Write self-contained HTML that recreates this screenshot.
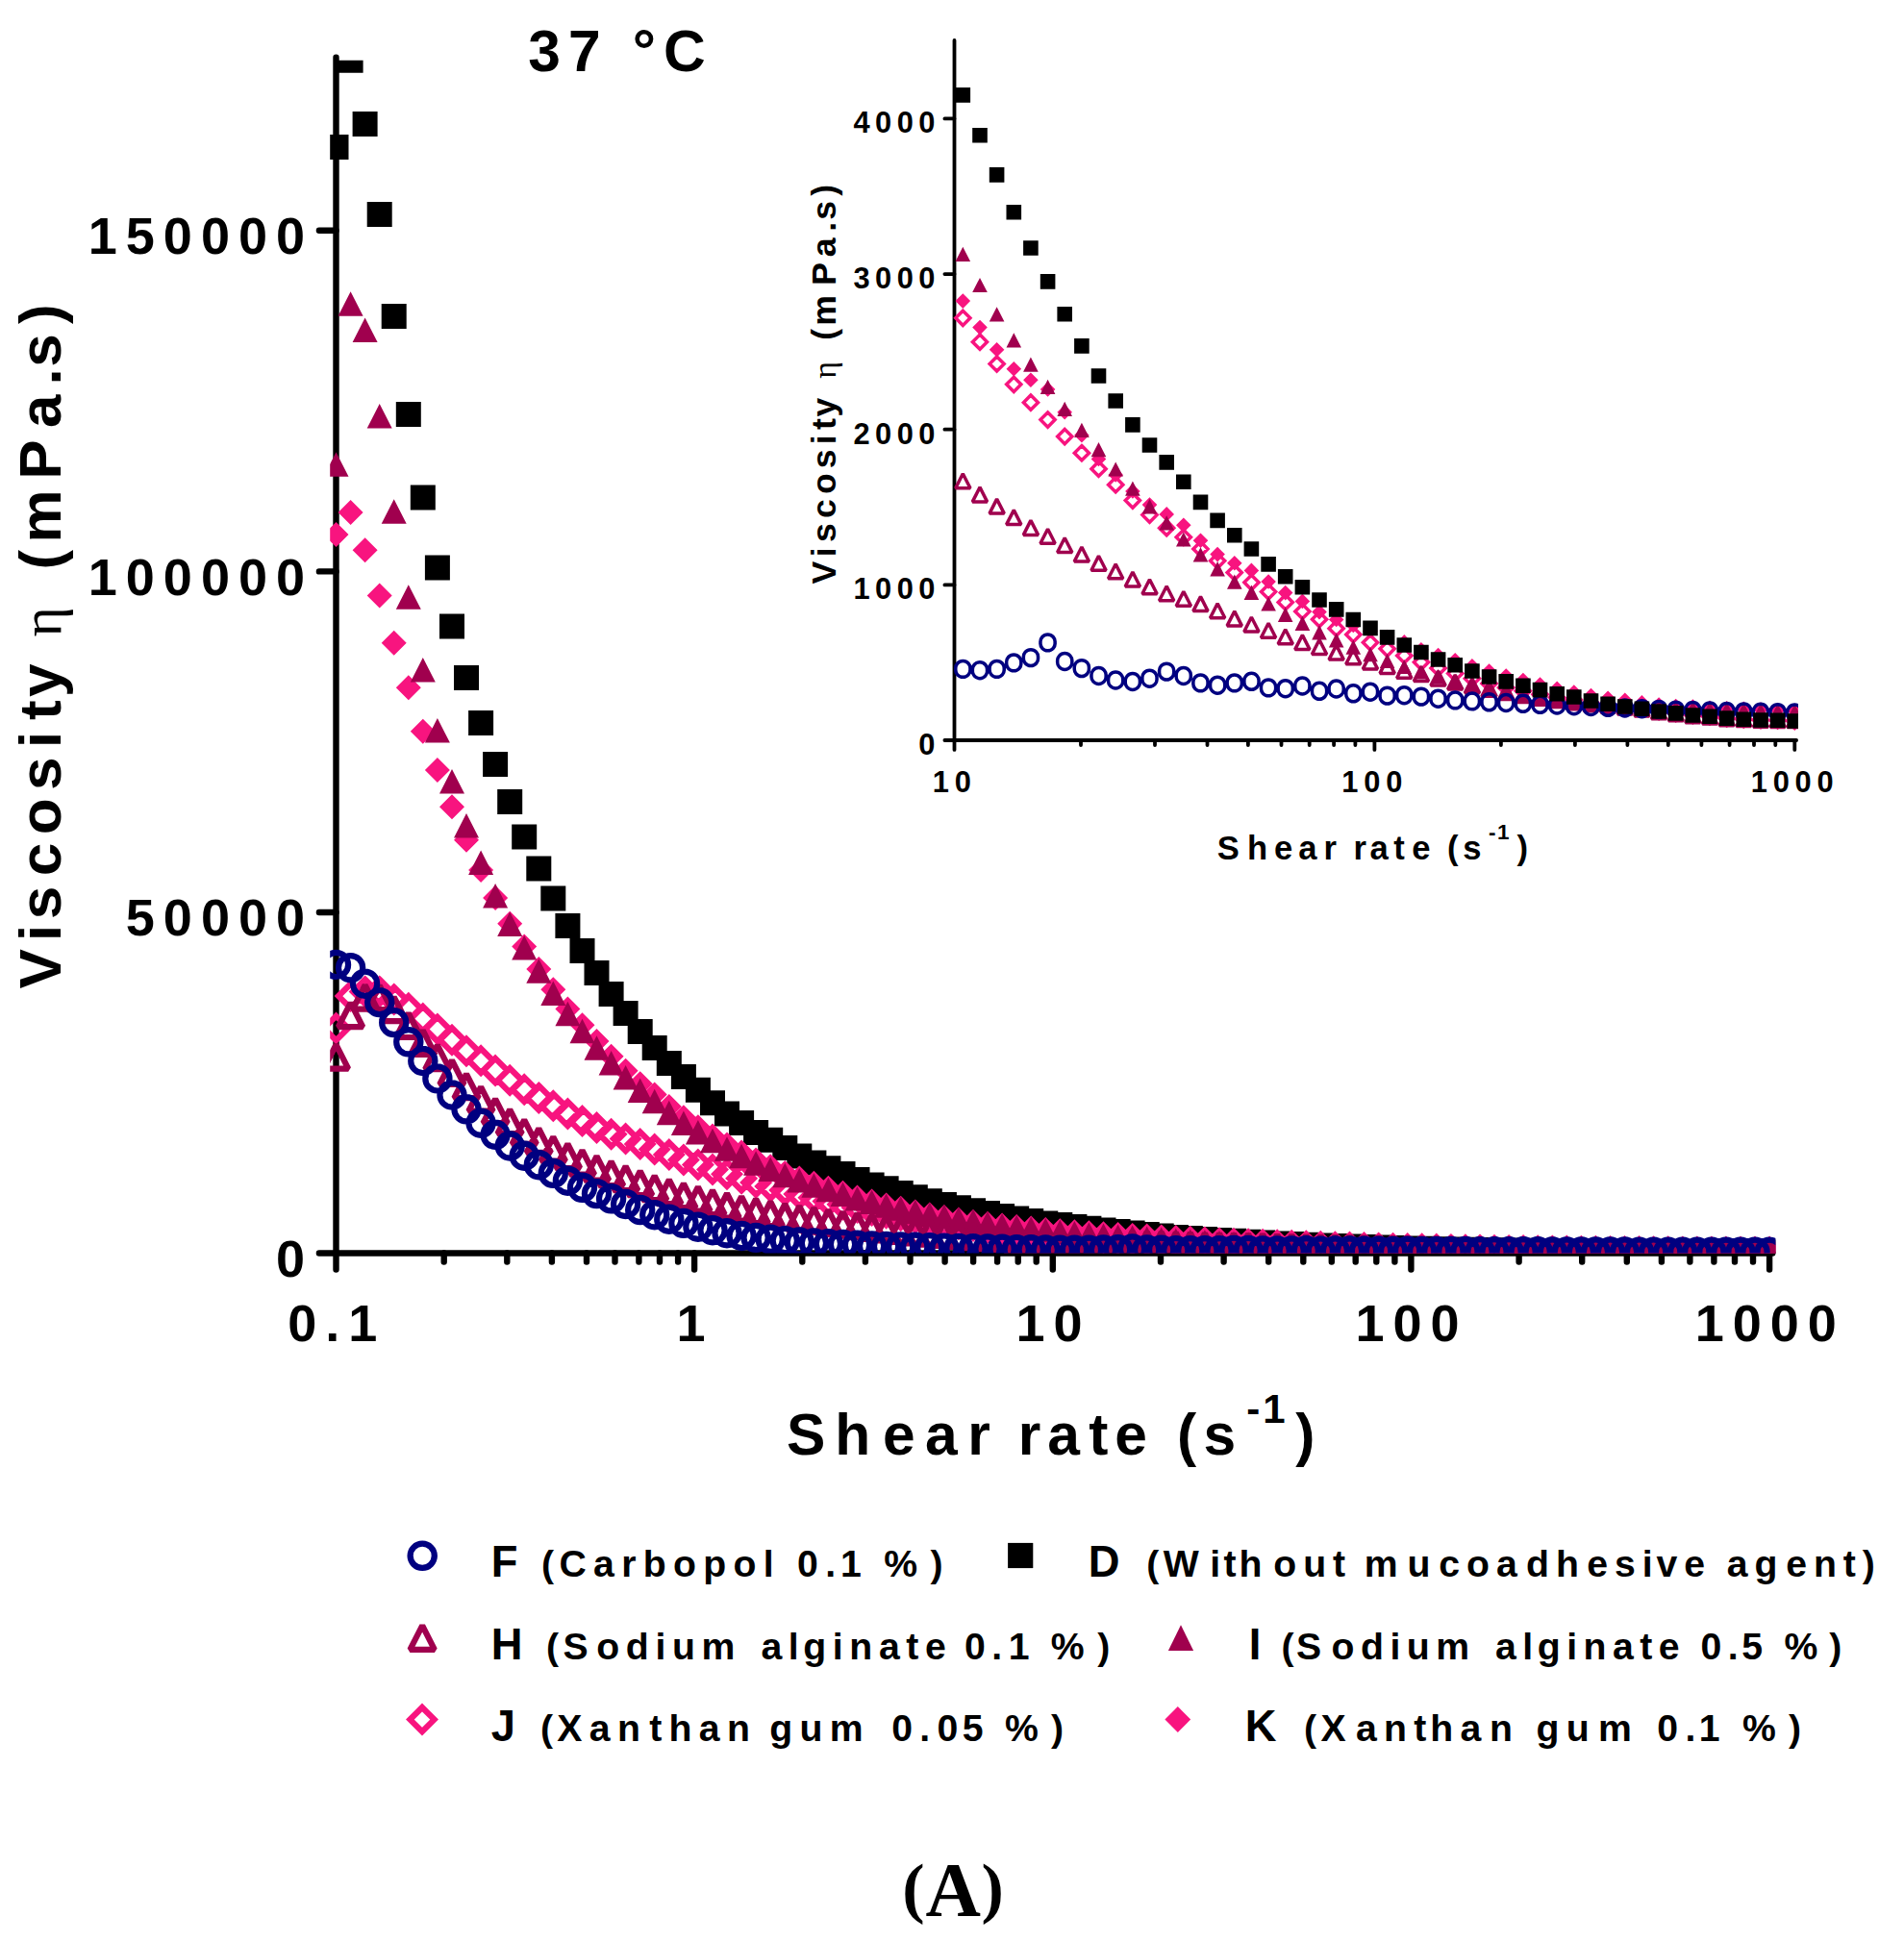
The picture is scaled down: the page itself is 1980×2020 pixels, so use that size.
<!DOCTYPE html>
<html lang="en"><head><meta charset="utf-8"><title>Viscosity vs shear rate at 37 &#176;C (A)</title>
<style>
html,body{margin:0;padding:0;background:#fff}
svg{display:block}
text{font-family:"Liberation Sans",Arial,Helvetica,sans-serif;font-weight:bold;fill:#000;white-space:pre}
.sym{font-family:"Liberation Serif","DejaVu Serif",serif;font-weight:normal}
.ser{font-family:"Liberation Serif","Times New Roman",serif;font-weight:bold}
</style></head><body>
<svg width="1980" height="2020" viewBox="0 0 1980 2020">
<rect width="1980" height="2020" fill="#fff"/>
<g fill="none" stroke="#000" stroke-width="6.4" stroke-linecap="round" stroke-linejoin="round">
<path d="M349.5 59.7V1303.5H1843.3"/>
<path d="M349.5 1303.5H331.9M349.5 949H331.9M349.5 594.4H331.9M349.5 239.8H331.9M349.5 1303.5V1320.6M461.7 1303.5V1312.5M527.3 1303.5V1312.5M573.9 1303.5V1312.5M610 1303.5V1312.5M639.5 1303.5V1312.5M664.4 1303.5V1312.5M686 1303.5V1312.5M705.1 1303.5V1312.5M722.1 1303.5V1320.6M834.3 1303.5V1312.5M899.9 1303.5V1312.5M946.5 1303.5V1312.5M982.6 1303.5V1312.5M1012.1 1303.5V1312.5M1037.1 1303.5V1312.5M1058.7 1303.5V1312.5M1077.7 1303.5V1312.5M1094.8 1303.5V1320.6M1207 1303.5V1312.5M1272.6 1303.5V1312.5M1319.2 1303.5V1312.5M1355.3 1303.5V1312.5M1384.8 1303.5V1312.5M1409.7 1303.5V1312.5M1431.3 1303.5V1312.5M1450.4 1303.5V1312.5M1467.4 1303.5V1320.6M1579.6 1303.5V1312.5M1645.2 1303.5V1312.5M1691.8 1303.5V1312.5M1727.9 1303.5V1312.5M1757.4 1303.5V1312.5M1782.4 1303.5V1312.5M1804 1303.5V1312.5M1823 1303.5V1312.5M1840.1 1303.5V1320.6"/>
</g>
<g fill="none" stroke="#000" stroke-width="3.8" stroke-linecap="round" stroke-linejoin="round">
<path d="M992.5 41.9V770H1868.1"/>
<path d="M992.5 770H982.4M992.5 608.4H982.4M992.5 446.7H982.4M992.5 285.1H982.4M992.5 123.4H982.4M992.5 770V779.9M1124 770V775.1M1201 770V775.1M1255.5 770V775.1M1297.9 770V775.1M1332.5 770V775.1M1361.7 770V775.1M1387.1 770V775.1M1409.4 770V775.1M1429.4 770V779.9M1560.9 770V775.1M1637.9 770V775.1M1692.4 770V775.1M1734.8 770V775.1M1769.4 770V775.1M1798.6 770V775.1M1824 770V775.1M1846.3 770V775.1M1866.3 770V779.9"/>
</g>
<defs><clipPath id="cm"><rect x="343.2" y="62.8" width="1503.2" height="1240.7"/></clipPath>
<clipPath id="ci"><rect x="985" y="30" width="884.9" height="740"/></clipPath></defs>
<g clip-path="url(#cm)">
<path fill="#000" d="M336.5 139.9h26v26h-26zM351.6 49.8h26v26h-26zM366.6 116h26v26h-26zM381.7 209.9h26v26h-26zM396.7 316h26v26h-26zM411.8 418h26v26h-26zM426.8 504.4h26v26h-26zM441.9 577.4h26v26h-26zM457 638.5h26v26h-26zM472 692h26v26h-26zM487.1 739h26v26h-26zM502.1 782h26v26h-26zM517.2 821h26v26h-26zM532.2 857.4h26v26h-26zM547.3 890.5h26v26h-26zM562.3 921.5h26v26h-26zM577.4 950h26v26h-26zM592.5 976h26v26h-26zM607.5 999h26v26h-26zM622.6 1021h26v26h-26zM637.6 1041h26v26h-26zM652.7 1059.9h26v26h-26zM667.7 1077h26v26h-26zM682.8 1092.9h26v26h-26zM697.9 1107.1h26v26h-26zM712.9 1120.8h26v26h-26zM728 1134.2h26v26h-26zM743 1145.6h26v26h-26zM758.1 1155h26v26h-26zM773.1 1164.9h26v26h-26zM788.2 1172.8h26v26h-26zM803.3 1181h26v26h-26zM818.3 1189.4h26v26h-26zM833.4 1196.5h26v26h-26zM848.4 1202.3h26v26h-26zM863.5 1208h26v26h-26zM878.5 1214.1h26v26h-26zM893.6 1219.6h26v26h-26zM908.6 1223.2h26v26h-26zM923.7 1227.9h26v26h-26zM938.8 1232.3h26v26h-26zM953.8 1236.3h26v26h-26zM968.9 1240.1h26v26h-26zM983.9 1243.3h26v26h-26zM999 1246.2h26v26h-26zM1014 1249.1h26v26h-26zM1029.1 1252.1h26v26h-26zM1044.2 1254.4h26v26h-26zM1059.2 1257.1h26v26h-26zM1074.3 1259.4h26v26h-26zM1089.3 1261.1h26v26h-26zM1104.4 1262.9h26v26h-26zM1119.4 1264.7h26v26h-26zM1134.5 1266.4h26v26h-26zM1149.6 1268h26v26h-26zM1164.6 1269.6h26v26h-26zM1179.7 1271.1h26v26h-26zM1194.7 1272.5h26v26h-26zM1209.8 1273.9h26v26h-26zM1224.8 1275h26v26h-26zM1239.9 1276.1h26v26h-26zM1255 1277h26v26h-26zM1270 1277.8h26v26h-26zM1285.1 1278.7h26v26h-26zM1300.1 1279.6h26v26h-26zM1315.2 1280.5h26v26h-26zM1330.2 1281.1h26v26h-26zM1345.3 1281.8h26v26h-26zM1360.3 1282.5h26v26h-26zM1375.4 1283h26v26h-26zM1390.5 1283.5h26v26h-26zM1405.5 1284.1h26v26h-26zM1420.6 1284.5h26v26h-26zM1435.6 1285h26v26h-26zM1450.7 1285.4h26v26h-26zM1465.7 1285.8h26v26h-26zM1480.8 1286.2h26v26h-26zM1495.9 1286.5h26v26h-26zM1510.9 1286.8h26v26h-26zM1526 1287.1h26v26h-26zM1541 1287.3h26v26h-26zM1556.1 1287.6h26v26h-26zM1571.1 1287.8h26v26h-26zM1586.2 1288h26v26h-26zM1601.3 1288.2h26v26h-26zM1616.3 1288.4h26v26h-26zM1631.4 1288.5h26v26h-26zM1646.4 1288.7h26v26h-26zM1661.5 1288.8h26v26h-26zM1676.5 1289h26v26h-26zM1691.6 1289.1h26v26h-26zM1706.6 1289.2h26v26h-26zM1721.7 1289.3h26v26h-26zM1736.8 1289.4h26v26h-26zM1751.8 1289.4h26v26h-26zM1766.9 1289.5h26v26h-26zM1781.9 1289.5h26v26h-26zM1797 1289.6h26v26h-26zM1812 1289.6h26v26h-26zM1827.1 1289.6h26v26h-26z"/>
<path fill="none" stroke="#F8147F" stroke-width="6.2" stroke-linejoin="miter" d="M349.5 1056.9L362.1 1069.5L349.5 1082.1L336.9 1069.5zM364.6 1023.5L377.2 1036.1L364.6 1048.7L352 1036.1zM379.6 1018.8L392.2 1031.4L379.6 1044L367 1031.4zM394.7 1018.8L407.3 1031.4L394.7 1044L382.1 1031.4zM409.7 1026.8L422.3 1039.4L409.7 1052L397.1 1039.4zM424.8 1036.1L437.4 1048.7L424.8 1061.3L412.2 1048.7zM439.8 1047L452.4 1059.6L439.8 1072.2L427.2 1059.6zM454.9 1057.9L467.5 1070.5L454.9 1083.1L442.3 1070.5zM470 1069.2L482.6 1081.8L470 1094.4L457.4 1081.8zM485 1080.6L497.6 1093.2L485 1105.8L472.4 1093.2zM500.1 1090.7L512.7 1103.3L500.1 1115.9L487.5 1103.3zM515.1 1100.9L527.7 1113.5L515.1 1126.1L502.5 1113.5zM530.2 1111.2L542.8 1123.8L530.2 1136.4L517.6 1123.8zM545.2 1120.6L557.8 1133.2L545.2 1145.8L532.6 1133.2zM560.3 1129.3L572.9 1141.9L560.3 1154.5L547.7 1141.9zM575.3 1137.7L587.9 1150.3L575.3 1162.9L562.7 1150.3zM590.4 1145.9L603 1158.5L590.4 1171.1L577.8 1158.5zM605.5 1153.4L618.1 1166L605.5 1178.6L592.9 1166zM620.5 1160.5L633.1 1173.1L620.5 1185.7L607.9 1173.1zM635.6 1167.1L648.2 1179.7L635.6 1192.3L623 1179.7zM650.6 1172L663.2 1184.6L650.6 1197.2L638 1184.6zM665.7 1177.5L678.3 1190.1L665.7 1202.7L653.1 1190.1zM680.7 1183L693.3 1195.6L680.7 1208.2L668.1 1195.6zM695.8 1188.5L708.4 1201.1L695.8 1213.7L683.2 1201.1zM710.9 1194L723.5 1206.6L710.9 1219.2L698.3 1206.6zM725.9 1198.9L738.5 1211.5L725.9 1224.1L713.3 1211.5zM741 1203.9L753.6 1216.5L741 1229.1L728.4 1216.5zM756 1208.7L768.6 1221.3L756 1233.9L743.4 1221.3zM771.1 1213.1L783.7 1225.7L771.1 1238.3L758.5 1225.7zM786.1 1217.4L798.7 1230L786.1 1242.6L773.5 1230zM801.2 1221.4L813.8 1234L801.2 1246.6L788.6 1234zM816.3 1225.3L828.9 1237.9L816.3 1250.5L803.7 1237.9zM831.3 1229.4L843.9 1242L831.3 1254.6L818.7 1242zM846.4 1233.2L859 1245.8L846.4 1258.4L833.8 1245.8zM861.4 1236.8L874 1249.4L861.4 1262L848.8 1249.4zM876.5 1240.2L889.1 1252.8L876.5 1265.4L863.9 1252.8zM891.5 1243.4L904.1 1256L891.5 1268.6L878.9 1256zM906.6 1246.3L919.2 1258.9L906.6 1271.5L894 1258.9zM921.6 1249.1L934.2 1261.7L921.6 1274.3L909 1261.7zM936.7 1251.7L949.3 1264.3L936.7 1276.9L924.1 1264.3zM951.8 1254.2L964.4 1266.8L951.8 1279.4L939.2 1266.8zM966.8 1256.5L979.4 1269.1L966.8 1281.7L954.2 1269.1zM981.9 1258.6L994.5 1271.2L981.9 1283.8L969.3 1271.2zM996.9 1260.6L1009.5 1273.2L996.9 1285.8L984.3 1273.2zM1012 1262.5L1024.6 1275.1L1012 1287.7L999.4 1275.1zM1027 1264.3L1039.6 1276.9L1027 1289.5L1014.4 1276.9zM1042.1 1266L1054.7 1278.6L1042.1 1291.2L1029.5 1278.6zM1057.2 1267.5L1069.8 1280.1L1057.2 1292.7L1044.6 1280.1zM1072.2 1269L1084.8 1281.6L1072.2 1294.2L1059.6 1281.6zM1087.3 1270.4L1099.9 1283L1087.3 1295.6L1074.7 1283zM1102.3 1271.6L1114.9 1284.2L1102.3 1296.8L1089.7 1284.2zM1117.4 1272.7L1130 1285.3L1117.4 1297.9L1104.8 1285.3zM1132.4 1273.7L1145 1286.3L1132.4 1298.9L1119.8 1286.3zM1147.5 1274.7L1160.1 1287.3L1147.5 1299.9L1134.9 1287.3zM1162.6 1275.5L1175.2 1288.1L1162.6 1300.7L1150 1288.1zM1177.6 1276.3L1190.2 1288.9L1177.6 1301.5L1165 1288.9zM1192.7 1277L1205.3 1289.6L1192.7 1302.2L1180.1 1289.6zM1207.7 1277.8L1220.3 1290.4L1207.7 1303L1195.1 1290.4zM1222.8 1278.5L1235.4 1291.1L1222.8 1303.7L1210.2 1291.1zM1237.8 1279.2L1250.4 1291.8L1237.8 1304.4L1225.2 1291.8zM1252.9 1280L1265.5 1292.6L1252.9 1305.2L1240.3 1292.6zM1268 1280.6L1280.6 1293.2L1268 1305.8L1255.4 1293.2zM1283 1281.2L1295.6 1293.8L1283 1306.4L1270.4 1293.8zM1298.1 1281.6L1310.7 1294.2L1298.1 1306.8L1285.5 1294.2zM1313.1 1282.2L1325.7 1294.8L1313.1 1307.4L1300.5 1294.8zM1328.2 1282.7L1340.8 1295.3L1328.2 1307.9L1315.6 1295.3zM1343.2 1283.2L1355.8 1295.8L1343.2 1308.4L1330.6 1295.8zM1358.3 1283.7L1370.9 1296.3L1358.3 1308.9L1345.7 1296.3zM1373.3 1284.1L1385.9 1296.7L1373.3 1309.3L1360.7 1296.7zM1388.4 1284.6L1401 1297.2L1388.4 1309.8L1375.8 1297.2zM1403.5 1285L1416.1 1297.6L1403.5 1310.2L1390.9 1297.6zM1418.5 1285.4L1431.1 1298L1418.5 1310.6L1405.9 1298zM1433.6 1285.8L1446.2 1298.4L1433.6 1311L1421 1298.4zM1448.6 1286.1L1461.2 1298.7L1448.6 1311.3L1436 1298.7zM1463.7 1286.4L1476.3 1299L1463.7 1311.6L1451.1 1299zM1478.7 1286.7L1491.3 1299.3L1478.7 1311.9L1466.1 1299.3zM1493.8 1287L1506.4 1299.6L1493.8 1312.2L1481.2 1299.6zM1508.9 1287.3L1521.5 1299.9L1508.9 1312.5L1496.3 1299.9zM1523.9 1287.6L1536.5 1300.2L1523.9 1312.8L1511.3 1300.2zM1539 1287.8L1551.6 1300.4L1539 1313L1526.4 1300.4zM1554 1288.1L1566.6 1300.7L1554 1313.3L1541.4 1300.7zM1569.1 1288.3L1581.7 1300.9L1569.1 1313.5L1556.5 1300.9zM1584.1 1288.5L1596.7 1301.1L1584.1 1313.7L1571.5 1301.1zM1599.2 1288.7L1611.8 1301.3L1599.2 1313.9L1586.6 1301.3zM1614.3 1288.8L1626.9 1301.4L1614.3 1314L1601.7 1301.4zM1629.3 1289L1641.9 1301.6L1629.3 1314.2L1616.7 1301.6zM1644.4 1289.1L1657 1301.7L1644.4 1314.3L1631.8 1301.7zM1659.4 1289.2L1672 1301.8L1659.4 1314.4L1646.8 1301.8zM1674.5 1289.3L1687.1 1301.9L1674.5 1314.5L1661.9 1301.9zM1689.5 1289.4L1702.1 1302L1689.5 1314.6L1676.9 1302zM1704.6 1289.5L1717.2 1302.1L1704.6 1314.7L1692 1302.1zM1719.6 1289.6L1732.2 1302.2L1719.6 1314.8L1707 1302.2zM1734.7 1289.7L1747.3 1302.3L1734.7 1314.9L1722.1 1302.3zM1749.8 1289.8L1762.4 1302.4L1749.8 1315L1737.2 1302.4zM1764.8 1289.8L1777.4 1302.4L1764.8 1315L1752.2 1302.4zM1779.9 1289.9L1792.5 1302.5L1779.9 1315.1L1767.3 1302.5zM1794.9 1289.9L1807.5 1302.5L1794.9 1315.1L1782.3 1302.5zM1810 1290L1822.6 1302.6L1810 1315.2L1797.4 1302.6zM1825 1290L1837.6 1302.6L1825 1315.2L1812.4 1302.6zM1840.1 1290L1852.7 1302.6L1840.1 1315.2L1827.5 1302.6z"/>
<path fill="#F8147F" d="M349.5 542.9L362.5 555.9L349.5 568.9L336.5 555.9zM364.6 520L377.6 533L364.6 546L351.6 533zM379.6 559.2L392.6 572.2L379.6 585.2L366.6 572.2zM394.7 606.4L407.7 619.4L394.7 632.4L381.7 619.4zM409.7 655.7L422.7 668.7L409.7 681.7L396.7 668.7zM424.8 702.2L437.8 715.2L424.8 728.2L411.8 715.2zM439.8 747.7L452.8 760.7L439.8 773.7L426.8 760.7zM454.9 788L467.9 801L454.9 814L441.9 801zM470 826.2L483 839.2L470 852.2L457 839.2zM485 860.7L498 873.7L485 886.7L472 873.7zM500.1 892L513.1 905L500.1 918L487.1 905zM515.1 920.9L528.1 933.9L515.1 946.9L502.1 933.9zM530.2 947.7L543.2 960.7L530.2 973.7L517.2 960.7zM545.2 971.6L558.2 984.6L545.2 997.6L532.2 984.6zM560.3 995L573.3 1008L560.3 1021L547.3 1008zM575.3 1016.2L588.3 1029.2L575.3 1042.2L562.3 1029.2zM590.4 1036.5L603.4 1049.5L590.4 1062.5L577.4 1049.5zM605.5 1053.2L618.5 1066.2L605.5 1079.2L592.5 1066.2zM620.5 1070L633.5 1083L620.5 1096L607.5 1083zM635.6 1085.8L648.6 1098.8L635.6 1111.8L622.6 1098.8zM650.6 1100.8L663.6 1113.8L650.6 1126.8L637.6 1113.8zM665.7 1114.2L678.7 1127.2L665.7 1140.2L652.7 1127.2zM680.7 1125.6L693.7 1138.6L680.7 1151.6L667.7 1138.6zM695.8 1137.9L708.8 1150.9L695.8 1163.9L682.8 1150.9zM710.9 1149.3L723.9 1162.3L710.9 1175.3L697.9 1162.3zM725.9 1159.2L738.9 1172.2L725.9 1185.2L712.9 1172.2zM741 1168.4L754 1181.4L741 1194.4L728 1181.4zM756 1177.5L769 1190.5L756 1203.5L743 1190.5zM771.1 1185.6L784.1 1198.6L771.1 1211.6L758.1 1198.6zM786.1 1193.5L799.1 1206.5L786.1 1219.5L773.1 1206.5zM801.2 1200.3L814.2 1213.3L801.2 1226.3L788.2 1213.3zM816.3 1206.9L829.3 1219.9L816.3 1232.9L803.3 1219.9zM831.3 1212.4L844.3 1225.4L831.3 1238.4L818.3 1225.4zM846.4 1217.8L859.4 1230.8L846.4 1243.8L833.4 1230.8zM861.4 1222.8L874.4 1235.8L861.4 1248.8L848.4 1235.8zM876.5 1227.8L889.5 1240.8L876.5 1253.8L863.5 1240.8zM891.5 1232.5L904.5 1245.5L891.5 1258.5L878.5 1245.5zM906.6 1236.4L919.6 1249.4L906.6 1262.4L893.6 1249.4zM921.6 1240.5L934.6 1253.5L921.6 1266.5L908.6 1253.5zM936.7 1243.7L949.7 1256.7L936.7 1269.7L923.7 1256.7zM951.8 1247.4L964.8 1260.4L951.8 1273.4L938.8 1260.4zM966.8 1250.5L979.8 1263.5L966.8 1276.5L953.8 1263.5zM981.9 1253L994.9 1266L981.9 1279L968.9 1266zM996.9 1255.8L1009.9 1268.8L996.9 1281.8L983.9 1268.8zM1012 1258.4L1025 1271.4L1012 1284.4L999 1271.4zM1027 1260.6L1040 1273.6L1027 1286.6L1014 1273.6zM1042.1 1263L1055.1 1276L1042.1 1289L1029.1 1276zM1057.2 1264.8L1070.2 1277.8L1057.2 1290.8L1044.2 1277.8zM1072.2 1266.9L1085.2 1279.9L1072.2 1292.9L1059.2 1279.9zM1087.3 1268.5L1100.3 1281.5L1087.3 1294.5L1074.3 1281.5zM1102.3 1270.5L1115.3 1283.5L1102.3 1296.5L1089.3 1283.5zM1117.4 1271.7L1130.4 1284.7L1117.4 1297.7L1104.4 1284.7zM1132.4 1272.7L1145.4 1285.7L1132.4 1298.7L1119.4 1285.7zM1147.5 1273.6L1160.5 1286.6L1147.5 1299.6L1134.5 1286.6zM1162.6 1274.1L1175.6 1287.1L1162.6 1300.1L1149.6 1287.1zM1177.6 1274.5L1190.6 1287.5L1177.6 1300.5L1164.6 1287.5zM1192.7 1275.5L1205.7 1288.5L1192.7 1301.5L1179.7 1288.5zM1207.7 1276.6L1220.7 1289.6L1207.7 1302.6L1194.7 1289.6zM1222.8 1277.7L1235.8 1290.7L1222.8 1303.7L1209.8 1290.7zM1237.8 1278.4L1250.8 1291.4L1237.8 1304.4L1224.8 1291.4zM1252.9 1279.1L1265.9 1292.1L1252.9 1305.1L1239.9 1292.1zM1268 1279.8L1281 1292.8L1268 1305.8L1255 1292.8zM1283 1280.2L1296 1293.2L1283 1306.2L1270 1293.2zM1298.1 1280.7L1311.1 1293.7L1298.1 1306.7L1285.1 1293.7zM1313.1 1281.4L1326.1 1294.4L1313.1 1307.4L1300.1 1294.4zM1328.2 1282L1341.2 1295L1328.2 1308L1315.2 1295zM1343.2 1282.4L1356.2 1295.4L1343.2 1308.4L1330.2 1295.4zM1358.3 1282.8L1371.3 1295.8L1358.3 1308.8L1345.3 1295.8zM1373.3 1283.3L1386.3 1296.3L1373.3 1309.3L1360.3 1296.3zM1388.4 1283.8L1401.4 1296.8L1388.4 1309.8L1375.4 1296.8zM1403.5 1284.2L1416.5 1297.2L1403.5 1310.2L1390.5 1297.2zM1418.5 1284.6L1431.5 1297.6L1418.5 1310.6L1405.5 1297.6zM1433.6 1285L1446.6 1298L1433.6 1311L1420.6 1298zM1448.6 1285.3L1461.6 1298.3L1448.6 1311.3L1435.6 1298.3zM1463.7 1285.5L1476.7 1298.5L1463.7 1311.5L1450.7 1298.5zM1478.7 1285.8L1491.7 1298.8L1478.7 1311.8L1465.7 1298.8zM1493.8 1286L1506.8 1299L1493.8 1312L1480.8 1299zM1508.9 1286.4L1521.9 1299.4L1508.9 1312.4L1495.9 1299.4zM1523.9 1286.6L1536.9 1299.6L1523.9 1312.6L1510.9 1299.6zM1539 1286.9L1552 1299.9L1539 1312.9L1526 1299.9zM1554 1287.1L1567 1300.1L1554 1313.1L1541 1300.1zM1569.1 1287.3L1582.1 1300.3L1569.1 1313.3L1556.1 1300.3zM1584.1 1287.6L1597.1 1300.6L1584.1 1313.6L1571.1 1300.6zM1599.2 1287.8L1612.2 1300.8L1599.2 1313.8L1586.2 1300.8zM1614.3 1288L1627.3 1301L1614.3 1314L1601.3 1301zM1629.3 1288.1L1642.3 1301.1L1629.3 1314.1L1616.3 1301.1zM1644.4 1288.3L1657.4 1301.3L1644.4 1314.3L1631.4 1301.3zM1659.4 1288.5L1672.4 1301.5L1659.4 1314.5L1646.4 1301.5zM1674.5 1288.6L1687.5 1301.6L1674.5 1314.6L1661.5 1301.6zM1689.5 1288.7L1702.5 1301.7L1689.5 1314.7L1676.5 1301.7zM1704.6 1288.8L1717.6 1301.8L1704.6 1314.8L1691.6 1301.8zM1719.6 1288.9L1732.6 1301.9L1719.6 1314.9L1706.6 1301.9zM1734.7 1288.9L1747.7 1301.9L1734.7 1314.9L1721.7 1301.9zM1749.8 1289L1762.8 1302L1749.8 1315L1736.8 1302zM1764.8 1289L1777.8 1302L1764.8 1315L1751.8 1302zM1779.9 1289L1792.9 1302L1779.9 1315L1766.9 1302zM1794.9 1289.1L1807.9 1302.1L1794.9 1315.1L1781.9 1302.1zM1810 1289.1L1823 1302.1L1810 1315.1L1797 1302.1zM1825 1289.1L1838 1302.1L1825 1315.1L1812 1302.1zM1840.1 1289.2L1853.1 1302.2L1840.1 1315.2L1827.1 1302.2z"/>
<path fill="#A0004E" d="M349.5 470.2L362.5 495.8L336.5 495.8zM364.6 303.2L377.6 328.8L351.6 328.8zM379.6 330.4L392.6 355.9L366.6 355.9zM394.7 419.9L407.7 445.4L381.7 445.4zM409.7 519.2L422.7 544.8L396.7 544.8zM424.8 608.2L437.8 633.8L411.8 633.8zM439.8 684L452.8 709.5L426.8 709.5zM454.9 747.1L467.9 772.6L441.9 772.6zM470 800L483 825.5L457 825.5zM485 846L498 871.5L472 871.5zM500.1 884.5L513.1 910L487.1 910zM515.1 919L528.1 944.5L502.1 944.5zM530.2 948.6L543.2 974.1L517.2 974.1zM545.2 972.9L558.2 998.4L532.2 998.4zM560.3 997.2L573.3 1022.8L547.3 1022.8zM575.3 1020.5L588.3 1046L562.3 1046zM590.4 1041.8L603.4 1067.2L577.4 1067.2zM605.5 1059.8L618.5 1085.3L592.5 1085.3zM620.5 1077.2L633.5 1102.8L607.5 1102.8zM635.6 1093L648.6 1118.5L622.6 1118.5zM650.6 1108L663.6 1133.5L637.6 1133.5zM665.7 1121.5L678.7 1147L652.7 1147zM680.7 1132.8L693.7 1158.3L667.7 1158.3zM695.8 1144.7L708.8 1170.2L682.8 1170.2zM710.9 1155.5L723.9 1181L697.9 1181zM725.9 1165L738.9 1190.5L712.9 1190.5zM741 1173.7L754 1199.2L728 1199.2zM756 1182.2L769 1207.8L743 1207.8zM771.1 1189.8L784.1 1215.3L758.1 1215.3zM786.1 1197.2L799.1 1222.8L773.1 1222.8zM801.2 1203.5L814.2 1229L788.2 1229zM816.3 1209.8L829.3 1235.3L803.3 1235.3zM831.3 1215L844.3 1240.5L818.3 1240.5zM846.4 1220.2L859.4 1245.7L833.4 1245.7zM861.4 1224.8L874.4 1250.3L848.4 1250.3zM876.5 1229.5L889.5 1255L863.5 1255zM891.5 1234L904.5 1259.5L878.5 1259.5zM906.6 1237.5L919.6 1263L893.6 1263zM921.6 1241.3L934.6 1266.8L908.6 1266.8zM936.7 1244.2L949.7 1269.8L923.7 1269.8zM951.8 1247.7L964.8 1273.2L938.8 1273.2zM966.8 1250.5L979.8 1276L953.8 1276zM981.9 1252.8L994.9 1278.3L968.9 1278.3zM996.9 1255.3L1009.9 1280.8L983.9 1280.8zM1012 1257.8L1025 1283.2L999 1283.2zM1027 1259.8L1040 1285.2L1014 1285.2zM1042.1 1262L1055.1 1287.5L1029.1 1287.5zM1057.2 1263.5L1070.2 1289L1044.2 1289zM1072.2 1265.3L1085.2 1290.8L1059.2 1290.8zM1087.3 1266.8L1100.3 1292.2L1074.3 1292.2zM1102.3 1268.6L1115.3 1294.1L1089.3 1294.1zM1117.4 1270L1130.4 1295.5L1104.4 1295.5zM1132.4 1271.3L1145.4 1296.8L1119.4 1296.8zM1147.5 1272.5L1160.5 1298L1134.5 1298zM1162.6 1273.6L1175.6 1299.1L1149.6 1299.1zM1177.6 1274.6L1190.6 1300.1L1164.6 1300.1zM1192.7 1275.6L1205.7 1301.1L1179.7 1301.1zM1207.7 1276.6L1220.7 1302.1L1194.7 1302.1zM1222.8 1277.5L1235.8 1303L1209.8 1303zM1237.8 1278.4L1250.8 1303.9L1224.8 1303.9zM1252.9 1279.3L1265.9 1304.8L1239.9 1304.8zM1268 1280.1L1281 1305.6L1255 1305.6zM1283 1280.8L1296 1306.3L1270 1306.3zM1298.1 1281.6L1311.1 1307.1L1285.1 1307.1zM1313.1 1282.3L1326.1 1307.8L1300.1 1307.8zM1328.2 1282.9L1341.2 1308.4L1315.2 1308.4zM1343.2 1283.5L1356.2 1309L1330.2 1309zM1358.3 1284L1371.3 1309.5L1345.3 1309.5zM1373.3 1284.5L1386.3 1310L1360.3 1310zM1388.4 1285L1401.4 1310.5L1375.4 1310.5zM1403.5 1285.4L1416.5 1310.9L1390.5 1310.9zM1418.5 1285.8L1431.5 1311.3L1405.5 1311.3zM1433.6 1286.2L1446.6 1311.7L1420.6 1311.7zM1448.6 1286.5L1461.6 1312L1435.6 1312zM1463.7 1286.8L1476.7 1312.3L1450.7 1312.3zM1478.7 1287.1L1491.7 1312.6L1465.7 1312.6zM1493.8 1287.4L1506.8 1312.9L1480.8 1312.9zM1508.9 1287.6L1521.9 1313.1L1495.9 1313.1zM1523.9 1287.8L1536.9 1313.3L1510.9 1313.3zM1539 1288.1L1552 1313.6L1526 1313.6zM1554 1288.3L1567 1313.8L1541 1313.8zM1569.1 1288.4L1582.1 1313.9L1556.1 1313.9zM1584.1 1288.6L1597.1 1314.1L1571.1 1314.1zM1599.2 1288.7L1612.2 1314.2L1586.2 1314.2zM1614.3 1288.9L1627.3 1314.4L1601.3 1314.4zM1629.3 1289L1642.3 1314.5L1616.3 1314.5zM1644.4 1289L1657.4 1314.5L1631.4 1314.5zM1659.4 1289.1L1672.4 1314.6L1646.4 1314.6zM1674.5 1289.1L1687.5 1314.6L1661.5 1314.6zM1689.5 1289.2L1702.5 1314.7L1676.5 1314.7zM1704.6 1289.2L1717.6 1314.7L1691.6 1314.7zM1719.6 1289.2L1732.6 1314.7L1706.6 1314.7zM1734.7 1289.3L1747.7 1314.8L1721.7 1314.8zM1749.8 1289.3L1762.8 1314.8L1736.8 1314.8zM1764.8 1289.3L1777.8 1314.8L1751.8 1314.8zM1779.9 1289.3L1792.9 1314.8L1766.9 1314.8zM1794.9 1289.4L1807.9 1314.9L1781.9 1314.9zM1810 1289.4L1823 1314.9L1797 1314.9zM1825 1289.4L1838 1314.9L1812 1314.9zM1840.1 1289.4L1853.1 1314.9L1827.1 1314.9z"/>
<path fill="none" stroke="#A0004E" stroke-width="6.2" stroke-linejoin="bevel" d="M349.5 1086.6L362.2 1111.6L336.8 1111.6zM364.6 1043.2L377.3 1068.2L351.8 1068.2zM379.6 1024.7L392.4 1049.7L366.9 1049.7zM394.7 1025.2L407.4 1050.2L381.9 1050.2zM409.7 1037.2L422.5 1062.2L397 1062.2zM424.8 1054L437.5 1079L412 1079zM439.8 1071.9L452.6 1096.9L427.1 1096.9zM454.9 1087.2L467.6 1112.2L442.1 1112.2zM470 1103L482.7 1128L457.2 1128zM485 1117.2L497.8 1142.2L472.3 1142.2zM500.1 1130.6L512.8 1155.6L487.3 1155.6zM515.1 1143.2L527.9 1168.2L502.4 1168.2zM530.2 1154.2L542.9 1179.2L517.4 1179.2zM545.2 1164.9L558 1189.9L532.5 1189.9zM560.3 1173.9L573 1198.9L547.5 1198.9zM575.3 1182.6L588.1 1207.6L562.6 1207.6zM590.4 1190L603.2 1215L577.7 1215zM605.5 1196.7L618.2 1221.7L592.7 1221.7zM620.5 1202.7L633.3 1227.7L607.8 1227.7zM635.6 1208.2L648.3 1233.2L622.8 1233.2zM650.6 1213.2L663.4 1238.2L637.9 1238.2zM665.7 1218.2L678.4 1243.2L652.9 1243.2zM680.7 1223.1L693.5 1248.1L668 1248.1zM695.8 1227.2L708.6 1252.2L683.1 1252.2zM710.9 1231.2L723.6 1256.2L698.1 1256.2zM725.9 1234.7L738.7 1259.7L713.2 1259.7zM741 1238.2L753.7 1263.2L728.2 1263.2zM756 1241.5L768.8 1266.5L743.3 1266.5zM771.1 1244.6L783.8 1269.6L758.3 1269.6zM786.1 1247.2L798.9 1272.2L773.4 1272.2zM801.2 1250L813.9 1275L788.4 1275zM816.3 1252.5L829 1277.5L803.5 1277.5zM831.3 1254.7L844.1 1279.7L818.6 1279.7zM846.4 1256.7L859.1 1281.7L833.6 1281.7zM861.4 1258.8L874.2 1283.8L848.7 1283.8zM876.5 1260.7L889.2 1285.7L863.7 1285.7zM891.5 1262.2L904.3 1287.2L878.8 1287.2zM906.6 1263.9L919.3 1288.9L893.8 1288.9zM921.6 1265.4L934.4 1290.4L908.9 1290.4zM936.7 1266.9L949.5 1291.9L924 1291.9zM951.8 1268.3L964.5 1293.3L939 1293.3zM966.8 1269.6L979.6 1294.6L954.1 1294.6zM981.9 1270.8L994.6 1295.8L969.1 1295.8zM996.9 1272L1009.7 1297L984.2 1297zM1012 1273.1L1024.7 1298.1L999.2 1298.1zM1027 1274.1L1039.8 1299.1L1014.3 1299.1zM1042.1 1275L1054.9 1300L1029.4 1300zM1057.2 1275.9L1069.9 1300.9L1044.4 1300.9zM1072.2 1276.8L1085 1301.8L1059.5 1301.8zM1087.3 1277.6L1100 1302.6L1074.5 1302.6zM1102.3 1278.3L1115.1 1303.3L1089.6 1303.3zM1117.4 1279L1130.1 1304L1104.6 1304zM1132.4 1279.5L1145.2 1304.5L1119.7 1304.5zM1147.5 1280L1160.2 1305L1134.7 1305zM1162.6 1280.5L1175.3 1305.5L1149.8 1305.5zM1177.6 1280.9L1190.4 1305.9L1164.9 1305.9zM1192.7 1281.3L1205.4 1306.3L1179.9 1306.3zM1207.7 1281.7L1220.5 1306.7L1195 1306.7zM1222.8 1282.1L1235.5 1307.1L1210 1307.1zM1237.8 1282.5L1250.6 1307.5L1225.1 1307.5zM1252.9 1282.8L1265.6 1307.8L1240.1 1307.8zM1268 1283.2L1280.7 1308.2L1255.2 1308.2zM1283 1283.5L1295.8 1308.5L1270.3 1308.5zM1298.1 1283.7L1310.8 1308.7L1285.3 1308.7zM1313.1 1283.9L1325.9 1308.9L1300.4 1308.9zM1328.2 1284.3L1340.9 1309.3L1315.4 1309.3zM1343.2 1284.6L1356 1309.6L1330.5 1309.6zM1358.3 1284.9L1371 1309.9L1345.5 1309.9zM1373.3 1285.2L1386.1 1310.2L1360.6 1310.2zM1388.4 1285.4L1401.2 1310.4L1375.7 1310.4zM1403.5 1285.7L1416.2 1310.7L1390.7 1310.7zM1418.5 1285.9L1431.3 1310.9L1405.8 1310.9zM1433.6 1286.2L1446.3 1311.2L1420.8 1311.2zM1448.6 1286.4L1461.4 1311.4L1435.9 1311.4zM1463.7 1286.6L1476.4 1311.6L1450.9 1311.6zM1478.7 1286.8L1491.5 1311.8L1466 1311.8zM1493.8 1287L1506.5 1312L1481 1312zM1508.9 1287.1L1521.6 1312.1L1496.1 1312.1zM1523.9 1287.3L1536.7 1312.3L1511.2 1312.3zM1539 1287.5L1551.7 1312.5L1526.2 1312.5zM1554 1287.7L1566.8 1312.7L1541.3 1312.7zM1569.1 1287.8L1581.8 1312.8L1556.3 1312.8zM1584.1 1288L1596.9 1313L1571.4 1313zM1599.2 1288.1L1611.9 1313.1L1586.4 1313.1zM1614.3 1288.2L1627 1313.2L1601.5 1313.2zM1629.3 1288.3L1642.1 1313.3L1616.6 1313.3zM1644.4 1288.4L1657.1 1313.4L1631.6 1313.4zM1659.4 1288.5L1672.2 1313.5L1646.7 1313.5zM1674.5 1288.6L1687.2 1313.6L1661.7 1313.6zM1689.5 1288.7L1702.3 1313.7L1676.8 1313.7zM1704.6 1288.7L1717.3 1313.7L1691.8 1313.7zM1719.6 1288.9L1732.4 1313.9L1706.9 1313.9zM1734.7 1289L1747.5 1314L1722 1314zM1749.8 1289L1762.5 1314L1737 1314zM1764.8 1289.1L1777.6 1314.1L1752.1 1314.1zM1779.9 1289.2L1792.6 1314.2L1767.1 1314.2zM1794.9 1289.2L1807.7 1314.2L1782.2 1314.2zM1810 1289.2L1822.7 1314.2L1797.2 1314.2zM1825 1289.2L1837.8 1314.2L1812.3 1314.2zM1840.1 1289.3L1852.8 1314.3L1827.3 1314.3z"/>
<path fill="none" stroke="#000080" stroke-width="6.2" d="M336.9 1003.4a12.6 12.6 0 1 0 25.2 0a12.6 12.6 0 1 0 -25.2 0zM352 1006.7a12.6 12.6 0 1 0 25.2 0a12.6 12.6 0 1 0 -25.2 0zM367 1023.2a12.6 12.6 0 1 0 25.2 0a12.6 12.6 0 1 0 -25.2 0zM382.1 1042.6a12.6 12.6 0 1 0 25.2 0a12.6 12.6 0 1 0 -25.2 0zM397.1 1063.6a12.6 12.6 0 1 0 25.2 0a12.6 12.6 0 1 0 -25.2 0zM412.2 1083.8a12.6 12.6 0 1 0 25.2 0a12.6 12.6 0 1 0 -25.2 0zM427.2 1103.5a12.6 12.6 0 1 0 25.2 0a12.6 12.6 0 1 0 -25.2 0zM442.3 1121.9a12.6 12.6 0 1 0 25.2 0a12.6 12.6 0 1 0 -25.2 0zM457.4 1139a12.6 12.6 0 1 0 25.2 0a12.6 12.6 0 1 0 -25.2 0zM472.4 1153.8a12.6 12.6 0 1 0 25.2 0a12.6 12.6 0 1 0 -25.2 0zM487.5 1168.2a12.6 12.6 0 1 0 25.2 0a12.6 12.6 0 1 0 -25.2 0zM502.5 1180.3a12.6 12.6 0 1 0 25.2 0a12.6 12.6 0 1 0 -25.2 0zM517.6 1192a12.6 12.6 0 1 0 25.2 0a12.6 12.6 0 1 0 -25.2 0zM532.6 1202.2a12.6 12.6 0 1 0 25.2 0a12.6 12.6 0 1 0 -25.2 0zM547.7 1211.7a12.6 12.6 0 1 0 25.2 0a12.6 12.6 0 1 0 -25.2 0zM562.7 1220.4a12.6 12.6 0 1 0 25.2 0a12.6 12.6 0 1 0 -25.2 0zM577.8 1228.2a12.6 12.6 0 1 0 25.2 0a12.6 12.6 0 1 0 -25.2 0zM592.9 1235.3a12.6 12.6 0 1 0 25.2 0a12.6 12.6 0 1 0 -25.2 0zM607.9 1241.6a12.6 12.6 0 1 0 25.2 0a12.6 12.6 0 1 0 -25.2 0zM623 1246.8a12.6 12.6 0 1 0 25.2 0a12.6 12.6 0 1 0 -25.2 0zM638 1252.5a12.6 12.6 0 1 0 25.2 0a12.6 12.6 0 1 0 -25.2 0zM653.1 1258.5a12.6 12.6 0 1 0 25.2 0a12.6 12.6 0 1 0 -25.2 0zM668.1 1263.7a12.6 12.6 0 1 0 25.2 0a12.6 12.6 0 1 0 -25.2 0zM683.2 1268.2a12.6 12.6 0 1 0 25.2 0a12.6 12.6 0 1 0 -25.2 0zM698.3 1272.4a12.6 12.6 0 1 0 25.2 0a12.6 12.6 0 1 0 -25.2 0zM713.3 1276.2a12.6 12.6 0 1 0 25.2 0a12.6 12.6 0 1 0 -25.2 0zM728.4 1279.7a12.6 12.6 0 1 0 25.2 0a12.6 12.6 0 1 0 -25.2 0zM743.4 1282.7a12.6 12.6 0 1 0 25.2 0a12.6 12.6 0 1 0 -25.2 0zM758.5 1285.5a12.6 12.6 0 1 0 25.2 0a12.6 12.6 0 1 0 -25.2 0zM773.5 1287.4a12.6 12.6 0 1 0 25.2 0a12.6 12.6 0 1 0 -25.2 0zM788.6 1289.2a12.6 12.6 0 1 0 25.2 0a12.6 12.6 0 1 0 -25.2 0zM803.7 1290.6a12.6 12.6 0 1 0 25.2 0a12.6 12.6 0 1 0 -25.2 0zM818.7 1291.9a12.6 12.6 0 1 0 25.2 0a12.6 12.6 0 1 0 -25.2 0zM833.8 1292.9a12.6 12.6 0 1 0 25.2 0a12.6 12.6 0 1 0 -25.2 0zM848.8 1293.8a12.6 12.6 0 1 0 25.2 0a12.6 12.6 0 1 0 -25.2 0zM863.9 1294.5a12.6 12.6 0 1 0 25.2 0a12.6 12.6 0 1 0 -25.2 0zM878.9 1295.2a12.6 12.6 0 1 0 25.2 0a12.6 12.6 0 1 0 -25.2 0zM894 1296a12.6 12.6 0 1 0 25.2 0a12.6 12.6 0 1 0 -25.2 0zM909 1296.5a12.6 12.6 0 1 0 25.2 0a12.6 12.6 0 1 0 -25.2 0zM924.1 1296.9a12.6 12.6 0 1 0 25.2 0a12.6 12.6 0 1 0 -25.2 0zM939.2 1297.3a12.6 12.6 0 1 0 25.2 0a12.6 12.6 0 1 0 -25.2 0zM954.2 1297.7a12.6 12.6 0 1 0 25.2 0a12.6 12.6 0 1 0 -25.2 0zM969.3 1298.1a12.6 12.6 0 1 0 25.2 0a12.6 12.6 0 1 0 -25.2 0zM984.3 1298.4a12.6 12.6 0 1 0 25.2 0a12.6 12.6 0 1 0 -25.2 0zM999.4 1298.7a12.6 12.6 0 1 0 25.2 0a12.6 12.6 0 1 0 -25.2 0zM1014.4 1299a12.6 12.6 0 1 0 25.2 0a12.6 12.6 0 1 0 -25.2 0zM1029.5 1299.3a12.6 12.6 0 1 0 25.2 0a12.6 12.6 0 1 0 -25.2 0zM1044.6 1299.6a12.6 12.6 0 1 0 25.2 0a12.6 12.6 0 1 0 -25.2 0zM1059.6 1299.8a12.6 12.6 0 1 0 25.2 0a12.6 12.6 0 1 0 -25.2 0zM1074.7 1300a12.6 12.6 0 1 0 25.2 0a12.6 12.6 0 1 0 -25.2 0zM1089.7 1300.2a12.6 12.6 0 1 0 25.2 0a12.6 12.6 0 1 0 -25.2 0zM1104.8 1300.3a12.6 12.6 0 1 0 25.2 0a12.6 12.6 0 1 0 -25.2 0zM1119.8 1300.2a12.6 12.6 0 1 0 25.2 0a12.6 12.6 0 1 0 -25.2 0zM1134.9 1300a12.6 12.6 0 1 0 25.2 0a12.6 12.6 0 1 0 -25.2 0zM1150 1299.7a12.6 12.6 0 1 0 25.2 0a12.6 12.6 0 1 0 -25.2 0zM1165 1299a12.6 12.6 0 1 0 25.2 0a12.6 12.6 0 1 0 -25.2 0zM1180.1 1299.9a12.6 12.6 0 1 0 25.2 0a12.6 12.6 0 1 0 -25.2 0zM1195.1 1300.2a12.6 12.6 0 1 0 25.2 0a12.6 12.6 0 1 0 -25.2 0zM1210.2 1300.6a12.6 12.6 0 1 0 25.2 0a12.6 12.6 0 1 0 -25.2 0zM1225.2 1300.8a12.6 12.6 0 1 0 25.2 0a12.6 12.6 0 1 0 -25.2 0zM1240.3 1300.8a12.6 12.6 0 1 0 25.2 0a12.6 12.6 0 1 0 -25.2 0zM1255.4 1300.7a12.6 12.6 0 1 0 25.2 0a12.6 12.6 0 1 0 -25.2 0zM1270.4 1300.4a12.6 12.6 0 1 0 25.2 0a12.6 12.6 0 1 0 -25.2 0zM1285.5 1300.6a12.6 12.6 0 1 0 25.2 0a12.6 12.6 0 1 0 -25.2 0zM1300.5 1300.9a12.6 12.6 0 1 0 25.2 0a12.6 12.6 0 1 0 -25.2 0zM1315.6 1301a12.6 12.6 0 1 0 25.2 0a12.6 12.6 0 1 0 -25.2 0zM1330.6 1300.9a12.6 12.6 0 1 0 25.2 0a12.6 12.6 0 1 0 -25.2 0zM1345.7 1300.8a12.6 12.6 0 1 0 25.2 0a12.6 12.6 0 1 0 -25.2 0zM1360.7 1301.1a12.6 12.6 0 1 0 25.2 0a12.6 12.6 0 1 0 -25.2 0zM1375.8 1301.1a12.6 12.6 0 1 0 25.2 0a12.6 12.6 0 1 0 -25.2 0zM1390.9 1301a12.6 12.6 0 1 0 25.2 0a12.6 12.6 0 1 0 -25.2 0zM1405.9 1301.3a12.6 12.6 0 1 0 25.2 0a12.6 12.6 0 1 0 -25.2 0zM1421 1301.2a12.6 12.6 0 1 0 25.2 0a12.6 12.6 0 1 0 -25.2 0zM1436 1301.4a12.6 12.6 0 1 0 25.2 0a12.6 12.6 0 1 0 -25.2 0zM1451.1 1301.3a12.6 12.6 0 1 0 25.2 0a12.6 12.6 0 1 0 -25.2 0zM1466.1 1301.5a12.6 12.6 0 1 0 25.2 0a12.6 12.6 0 1 0 -25.2 0zM1481.2 1301.4a12.6 12.6 0 1 0 25.2 0a12.6 12.6 0 1 0 -25.2 0zM1496.3 1301.5a12.6 12.6 0 1 0 25.2 0a12.6 12.6 0 1 0 -25.2 0zM1511.3 1301.6a12.6 12.6 0 1 0 25.2 0a12.6 12.6 0 1 0 -25.2 0zM1526.4 1301.7a12.6 12.6 0 1 0 25.2 0a12.6 12.6 0 1 0 -25.2 0zM1541.4 1301.7a12.6 12.6 0 1 0 25.2 0a12.6 12.6 0 1 0 -25.2 0zM1556.5 1301.8a12.6 12.6 0 1 0 25.2 0a12.6 12.6 0 1 0 -25.2 0zM1571.5 1301.8a12.6 12.6 0 1 0 25.2 0a12.6 12.6 0 1 0 -25.2 0zM1586.6 1301.8a12.6 12.6 0 1 0 25.2 0a12.6 12.6 0 1 0 -25.2 0zM1601.7 1301.9a12.6 12.6 0 1 0 25.2 0a12.6 12.6 0 1 0 -25.2 0zM1616.7 1301.9a12.6 12.6 0 1 0 25.2 0a12.6 12.6 0 1 0 -25.2 0zM1631.8 1301.9a12.6 12.6 0 1 0 25.2 0a12.6 12.6 0 1 0 -25.2 0zM1646.8 1302a12.6 12.6 0 1 0 25.2 0a12.6 12.6 0 1 0 -25.2 0zM1661.9 1302a12.6 12.6 0 1 0 25.2 0a12.6 12.6 0 1 0 -25.2 0zM1676.9 1302a12.6 12.6 0 1 0 25.2 0a12.6 12.6 0 1 0 -25.2 0zM1692 1302.1a12.6 12.6 0 1 0 25.2 0a12.6 12.6 0 1 0 -25.2 0zM1707 1302.1a12.6 12.6 0 1 0 25.2 0a12.6 12.6 0 1 0 -25.2 0zM1722.1 1302.1a12.6 12.6 0 1 0 25.2 0a12.6 12.6 0 1 0 -25.2 0zM1737.2 1302.1a12.6 12.6 0 1 0 25.2 0a12.6 12.6 0 1 0 -25.2 0zM1752.2 1302.2a12.6 12.6 0 1 0 25.2 0a12.6 12.6 0 1 0 -25.2 0zM1767.3 1302.2a12.6 12.6 0 1 0 25.2 0a12.6 12.6 0 1 0 -25.2 0zM1782.3 1302.2a12.6 12.6 0 1 0 25.2 0a12.6 12.6 0 1 0 -25.2 0zM1797.4 1302.2a12.6 12.6 0 1 0 25.2 0a12.6 12.6 0 1 0 -25.2 0zM1812.4 1302.2a12.6 12.6 0 1 0 25.2 0a12.6 12.6 0 1 0 -25.2 0zM1827.5 1302.2a12.6 12.6 0 1 0 25.2 0a12.6 12.6 0 1 0 -25.2 0z"/>
</g>
<g clip-path="url(#ci)">
<path fill="none" stroke="#F8147F" stroke-width="3.5" stroke-linejoin="miter" d="M1001.3 323.2L1008.9 330.8L1001.3 338.4L993.8 330.8zM1019 348.1L1026.5 355.7L1019 363.3L1011.4 355.7zM1036.6 370.9L1044.2 378.5L1036.6 386.1L1029.1 378.5zM1054.3 392.2L1061.8 399.8L1054.3 407.4L1046.7 399.8zM1071.9 411.1L1079.5 418.7L1071.9 426.3L1064.4 418.7zM1089.6 429L1097.1 436.6L1089.6 444.2L1082 436.6zM1107.2 446.5L1114.8 454.1L1107.2 461.7L1099.7 454.1zM1124.9 463.6L1132.5 471.2L1124.9 478.8L1117.3 471.2zM1142.5 480.1L1150.1 487.7L1142.5 495.3L1135 487.7zM1160.2 496.6L1167.8 504.2L1160.2 511.8L1152.6 504.2zM1177.9 513L1185.4 520.6L1177.9 528.2L1170.3 520.6zM1195.5 528L1203.1 535.6L1195.5 543.2L1187.9 535.6zM1213.2 541.6L1220.7 549.2L1213.2 556.8L1205.6 549.2zM1230.8 551.2L1238.4 558.8L1230.8 566.4L1223.2 558.8zM1248.5 563.4L1256 571L1248.5 578.6L1240.9 571zM1266.1 575.7L1273.7 583.3L1266.1 590.9L1258.6 583.3zM1283.8 588L1291.3 595.6L1283.8 603.2L1276.2 595.6zM1301.4 598.2L1309 605.8L1301.4 613.4L1293.9 605.8zM1319.1 607.9L1326.6 615.5L1319.1 623.1L1311.5 615.5zM1336.7 618.8L1344.3 626.4L1336.7 634L1329.2 626.4zM1354.4 628.4L1361.9 636L1354.4 643.6L1346.8 636zM1372 636.6L1379.6 644.2L1372 651.8L1364.5 644.2zM1389.7 646.1L1397.2 653.7L1389.7 661.3L1382.1 653.7zM1407.3 652.5L1414.9 660.1L1407.3 667.7L1399.8 660.1zM1425 660.7L1432.5 668.3L1425 675.9L1417.4 668.3zM1442.6 667.2L1450.2 674.8L1442.6 682.4L1435.1 674.8zM1460.3 674.3L1467.9 681.9L1460.3 689.5L1452.7 681.9zM1477.9 681.2L1485.5 688.8L1477.9 696.4L1470.4 688.8zM1495.6 687.3L1503.2 694.9L1495.6 702.5L1488 694.9zM1513.2 692.8L1520.8 700.4L1513.2 708L1505.7 700.4zM1530.9 698.3L1538.5 705.8L1530.9 713.4L1523.3 705.8zM1548.6 703.5L1556.1 711L1548.6 718.6L1541 711zM1566.2 707.6L1573.8 715.2L1566.2 722.7L1558.6 715.2zM1583.9 711.2L1591.4 718.8L1583.9 726.3L1576.3 718.8zM1601.5 714.7L1609.1 722.3L1601.5 729.9L1594 722.3zM1619.2 718L1626.7 725.6L1619.2 733.2L1611.6 725.6zM1636.8 720.6L1644.4 728.1L1636.8 735.7L1629.3 728.1zM1654.5 723.8L1662 731.3L1654.5 738.9L1646.9 731.3zM1672.1 726.2L1679.7 733.8L1672.1 741.3L1664.6 733.8zM1689.8 728.2L1697.3 735.8L1689.8 743.3L1682.2 735.8zM1707.4 729.6L1715 737.2L1707.4 744.8L1699.9 737.2zM1725.1 732.4L1732.6 740L1725.1 747.6L1717.5 740zM1742.7 734.3L1750.3 741.9L1742.7 749.5L1735.2 741.9zM1760.4 736.4L1767.9 744L1760.4 751.6L1752.8 744zM1778 737.6L1785.6 745.2L1778 752.8L1770.5 745.2zM1795.7 739.5L1803.2 747.1L1795.7 754.7L1788.1 747.1zM1813.3 740.6L1820.9 748.2L1813.3 755.8L1805.8 748.2zM1831 741.4L1838.6 749L1831 756.6L1823.4 749zM1848.6 741.6L1856.2 749.2L1848.6 756.8L1841.1 749.2zM1866.3 742.4L1873.9 750L1866.3 757.6L1858.7 750z"/>
<path fill="#F8147F" d="M1001.3 305.3L1009.1 313.1L1001.3 320.9L993.5 313.1zM1019 332.8L1026.8 340.6L1019 348.4L1011.2 340.6zM1036.6 355.9L1044.4 363.7L1036.6 371.5L1028.8 363.7zM1054.3 375.9L1062.1 383.7L1054.3 391.5L1046.5 383.7zM1071.9 387.4L1079.7 395.2L1071.9 403L1064.1 395.2zM1089.6 397.2L1097.4 405L1089.6 412.8L1081.8 405zM1107.2 420.9L1115 428.7L1107.2 436.5L1099.4 428.7zM1124.9 445L1132.7 452.8L1124.9 460.6L1117.1 452.8zM1142.5 469.7L1150.3 477.5L1142.5 485.3L1134.7 477.5zM1160.2 486.2L1168 494L1160.2 501.8L1152.4 494zM1177.9 503.2L1185.7 511L1177.9 518.8L1170.1 511zM1195.5 517.3L1203.3 525.1L1195.5 532.9L1187.7 525.1zM1213.2 527.1L1221 534.9L1213.2 542.7L1205.4 534.9zM1230.8 538.4L1238.6 546.2L1230.8 554L1223 546.2zM1248.5 554.4L1256.3 562.2L1248.5 570L1240.7 562.2zM1266.1 568.8L1273.9 576.6L1266.1 584.4L1258.3 576.6zM1283.8 578L1291.6 585.8L1283.8 593.6L1276 585.8zM1301.4 585.6L1309.2 593.4L1301.4 601.2L1293.6 593.4zM1319.1 597.2L1326.9 605L1319.1 612.8L1311.3 605zM1336.7 608.8L1344.5 616.6L1336.7 624.4L1328.9 616.6zM1354.4 617.6L1362.2 625.4L1354.4 633.2L1346.6 625.4zM1372 628.8L1379.8 636.6L1372 644.4L1364.2 636.6zM1389.7 636.7L1397.5 644.5L1389.7 652.3L1381.9 644.5zM1407.3 642.7L1415.1 650.5L1407.3 658.3L1399.5 650.5zM1425 648.7L1432.8 656.5L1425 664.3L1417.2 656.5zM1442.6 654.7L1450.4 662.5L1442.6 670.3L1434.8 662.5zM1460.3 660.1L1468.1 667.9L1460.3 675.7L1452.5 667.9zM1477.9 667.9L1485.7 675.7L1477.9 683.5L1470.1 675.7zM1495.6 673.8L1503.4 681.6L1495.6 689.4L1487.8 681.6zM1513.2 679L1521 686.8L1513.2 694.6L1505.4 686.8zM1530.9 685L1538.7 692.8L1530.9 700.6L1523.1 692.8zM1548.6 690.2L1556.4 698L1548.6 705.8L1540.8 698zM1566.2 695.2L1574 703L1566.2 710.8L1558.4 703zM1583.9 699.8L1591.7 707.6L1583.9 715.4L1576.1 707.6zM1601.5 704.2L1609.3 712L1601.5 719.8L1593.7 712zM1619.2 708.4L1627 716.2L1619.2 724L1611.4 716.2zM1636.8 712.3L1644.6 720.1L1636.8 727.9L1629 720.1zM1654.5 715.7L1662.3 723.5L1654.5 731.3L1646.7 723.5zM1672.1 718.4L1679.9 726.2L1672.1 734L1664.3 726.2zM1689.8 720.4L1697.6 728.2L1689.8 736L1682 728.2zM1707.4 723.1L1715.2 730.9L1707.4 738.7L1699.6 730.9zM1725.1 725.2L1732.9 733L1725.1 740.8L1717.3 733zM1742.7 726.7L1750.5 734.5L1742.7 742.3L1734.9 734.5zM1760.4 727.2L1768.2 735L1760.4 742.8L1752.6 735zM1778 728.6L1785.8 736.4L1778 744.2L1770.2 736.4zM1795.7 729.1L1803.5 736.9L1795.7 744.7L1787.9 736.9zM1813.3 729.6L1821.1 737.4L1813.3 745.2L1805.5 737.4zM1831 730.2L1838.8 738L1831 745.8L1823.2 738zM1848.6 730.7L1856.4 738.5L1848.6 746.3L1840.8 738.5zM1866.3 731.5L1874.1 739.3L1866.3 747.1L1858.5 739.3z"/>
<path fill="none" stroke="#A0004E" stroke-width="3.5" stroke-linejoin="bevel" d="M1001.3 492.7L1009 507.7L993.7 507.7zM1019 506.9L1026.6 521.9L1011.3 521.9zM1036.6 519.1L1044.3 534.1L1029 534.1zM1054.3 530.6L1061.9 545.6L1046.6 545.6zM1071.9 541.4L1079.6 556.4L1064.3 556.4zM1089.6 550.3L1097.2 565.3L1081.9 565.3zM1107.2 559.5L1114.9 574.5L1099.6 574.5zM1124.9 569L1132.5 584L1117.2 584zM1142.5 578.2L1150.2 593.2L1134.9 593.2zM1160.2 586.8L1167.8 601.8L1152.5 601.8zM1177.9 595L1185.5 610L1170.2 610zM1195.5 602.8L1203.2 617.8L1187.9 617.8zM1213.2 609.7L1220.8 624.7L1205.5 624.7zM1230.8 615.3L1238.5 630.3L1223.2 630.3zM1248.5 620.6L1256.1 635.6L1240.8 635.6zM1266.1 627.7L1273.8 642.7L1258.5 642.7zM1283.8 635.9L1291.4 650.9L1276.1 650.9zM1301.4 642L1309.1 657L1293.8 657zM1319.1 648.2L1326.7 663.2L1311.4 663.2zM1336.7 654.7L1344.4 669.7L1329.1 669.7zM1354.4 660.6L1362 675.6L1346.7 675.6zM1372 665.5L1379.7 680.5L1364.4 680.5zM1389.7 671.1L1397.3 686.1L1382 686.1zM1407.3 675.8L1415 690.8L1399.7 690.8zM1425 680.9L1432.6 695.9L1417.3 695.9zM1442.6 685.4L1450.3 700.4L1435 700.4zM1460.3 690.2L1467.9 705.2L1452.6 705.2zM1477.9 693.6L1485.6 708.6L1470.3 708.6zM1495.6 698L1503.2 713L1487.9 713zM1513.2 702L1520.9 717L1505.6 717zM1530.9 705.8L1538.6 720.8L1523.3 720.8zM1548.6 709.3L1556.2 724.3L1540.9 724.3zM1566.2 712.5L1573.9 727.5L1558.6 727.5zM1583.9 715.5L1591.5 730.5L1576.2 730.5zM1601.5 718.2L1609.2 733.2L1593.9 733.2zM1619.2 720.6L1626.8 735.6L1611.5 735.6zM1636.8 722.8L1644.5 737.8L1629.2 737.8zM1654.5 724.6L1662.1 739.6L1646.8 739.6zM1672.1 726L1679.8 741L1664.5 741zM1689.8 728L1697.4 743L1682.1 743zM1707.4 730L1715.1 745L1699.8 745zM1725.1 732.8L1732.7 747.8L1717.4 747.8zM1742.7 734.7L1750.4 749.7L1735.1 749.7zM1760.4 736.8L1768 751.8L1752.7 751.8zM1778 738L1785.7 753L1770.4 753zM1795.7 739.7L1803.3 754.7L1788 754.7zM1813.3 740.6L1821 755.6L1805.7 755.6zM1831 741.3L1838.6 756.3L1823.3 756.3zM1848.6 741.4L1856.3 756.4L1841 756.4zM1866.3 741.5L1874 756.5L1858.6 756.5z"/>
<path fill="#A0004E" d="M1001.3 256.7L1009.1 271.9L993.5 271.9zM1019 288.9L1026.8 304.1L1011.2 304.1zM1036.6 319.2L1044.4 334.5L1028.8 334.5zM1054.3 346.2L1062.1 361.5L1046.5 361.5zM1071.9 371.5L1079.7 386.8L1064.1 386.8zM1089.6 394.7L1097.4 409.9L1081.8 409.9zM1107.2 417.8L1115 433L1099.4 433zM1124.9 439.8L1132.7 455L1117.1 455zM1142.5 460L1150.3 475.2L1134.7 475.2zM1160.2 480.4L1168 495.6L1152.4 495.6zM1177.9 500.5L1185.7 515.8L1170.1 515.8zM1195.5 519.1L1203.3 534.4L1187.7 534.4zM1213.2 536.2L1221 551.5L1205.4 551.5zM1230.8 553.4L1238.6 568.6L1223 568.6zM1248.5 569.2L1256.3 584.5L1240.7 584.5zM1266.1 584.1L1273.9 599.4L1258.3 599.4zM1283.8 597.5L1291.6 612.8L1276 612.8zM1301.4 608.6L1309.2 623.9L1293.6 623.9zM1319.1 620.4L1326.9 635.6L1311.3 635.6zM1336.7 631.6L1344.5 646.9L1328.9 646.9zM1354.4 640.6L1362.2 655.9L1346.6 655.9zM1372 650.1L1379.8 665.4L1364.2 665.4zM1389.7 658.2L1397.5 673.5L1381.9 673.5zM1407.3 665.5L1415.1 680.8L1399.5 680.8zM1425 673L1432.8 688.2L1417.2 688.2zM1442.6 679.8L1450.4 695L1434.8 695zM1460.3 685.9L1468.1 701.1L1452.5 701.1zM1477.9 691.4L1485.7 706.6L1470.1 706.6zM1495.6 696.1L1503.4 711.4L1487.8 711.4zM1513.2 701L1521 716.2L1505.4 716.2zM1530.9 705.6L1538.7 720.9L1523.1 720.9zM1548.6 709.8L1556.4 725L1540.8 725zM1566.2 713.2L1574 728.5L1558.4 728.5zM1583.9 716.6L1591.7 731.9L1576.1 731.9zM1601.5 719.4L1609.3 734.6L1593.7 734.6zM1619.2 721.4L1627 736.6L1611.4 736.6zM1636.8 723.5L1644.6 738.8L1629 738.8zM1654.5 724.6L1662.3 739.9L1646.7 739.9zM1672.1 725.6L1679.9 740.9L1664.3 740.9zM1689.8 726.5L1697.6 741.8L1682 741.8zM1707.4 727.2L1715.2 742.5L1699.6 742.5zM1725.1 728L1732.9 743.2L1717.3 743.2zM1742.7 728.6L1750.5 743.9L1734.9 743.9zM1760.4 729.1L1768.2 744.4L1752.6 744.4zM1778 729.8L1785.8 745L1770.2 745zM1795.7 730.4L1803.5 745.6L1787.9 745.6zM1813.3 731L1821.1 746.2L1805.5 746.2zM1831 731.5L1838.8 746.8L1823.2 746.8zM1848.6 732L1856.4 747.2L1840.8 747.2zM1866.3 732.5L1874.1 747.8L1858.5 747.8z"/>
<path fill="none" stroke="#000080" stroke-width="3.5" d="M993.8 695.9a7.6 7.6 0 1 0 15.1 0a7.6 7.6 0 1 0 -15.1 0zM1011.4 697.2a7.6 7.6 0 1 0 15.1 0a7.6 7.6 0 1 0 -15.1 0zM1029.1 695.9a7.6 7.6 0 1 0 15.1 0a7.6 7.6 0 1 0 -15.1 0zM1046.7 689.4a7.6 7.6 0 1 0 15.1 0a7.6 7.6 0 1 0 -15.1 0zM1064.4 684.1a7.6 7.6 0 1 0 15.1 0a7.6 7.6 0 1 0 -15.1 0zM1082 668.4a7.6 7.6 0 1 0 15.1 0a7.6 7.6 0 1 0 -15.1 0zM1099.7 688a7.6 7.6 0 1 0 15.1 0a7.6 7.6 0 1 0 -15.1 0zM1117.3 695.1a7.6 7.6 0 1 0 15.1 0a7.6 7.6 0 1 0 -15.1 0zM1135 703a7.6 7.6 0 1 0 15.1 0a7.6 7.6 0 1 0 -15.1 0zM1152.6 707.5a7.6 7.6 0 1 0 15.1 0a7.6 7.6 0 1 0 -15.1 0zM1170.3 709a7.6 7.6 0 1 0 15.1 0a7.6 7.6 0 1 0 -15.1 0zM1187.9 705.7a7.6 7.6 0 1 0 15.1 0a7.6 7.6 0 1 0 -15.1 0zM1205.6 698.6a7.6 7.6 0 1 0 15.1 0a7.6 7.6 0 1 0 -15.1 0zM1223.2 703a7.6 7.6 0 1 0 15.1 0a7.6 7.6 0 1 0 -15.1 0zM1240.9 710.4a7.6 7.6 0 1 0 15.1 0a7.6 7.6 0 1 0 -15.1 0zM1258.6 712.7a7.6 7.6 0 1 0 15.1 0a7.6 7.6 0 1 0 -15.1 0zM1276.2 710.4a7.6 7.6 0 1 0 15.1 0a7.6 7.6 0 1 0 -15.1 0zM1293.9 708.8a7.6 7.6 0 1 0 15.1 0a7.6 7.6 0 1 0 -15.1 0zM1311.5 715.4a7.6 7.6 0 1 0 15.1 0a7.6 7.6 0 1 0 -15.1 0zM1329.2 716.2a7.6 7.6 0 1 0 15.1 0a7.6 7.6 0 1 0 -15.1 0zM1346.8 713.5a7.6 7.6 0 1 0 15.1 0a7.6 7.6 0 1 0 -15.1 0zM1364.5 718.8a7.6 7.6 0 1 0 15.1 0a7.6 7.6 0 1 0 -15.1 0zM1382.1 716.5a7.6 7.6 0 1 0 15.1 0a7.6 7.6 0 1 0 -15.1 0zM1399.8 721.3a7.6 7.6 0 1 0 15.1 0a7.6 7.6 0 1 0 -15.1 0zM1417.4 719.7a7.6 7.6 0 1 0 15.1 0a7.6 7.6 0 1 0 -15.1 0zM1435.1 723.6a7.6 7.6 0 1 0 15.1 0a7.6 7.6 0 1 0 -15.1 0zM1452.7 723.2a7.6 7.6 0 1 0 15.1 0a7.6 7.6 0 1 0 -15.1 0zM1470.4 724.6a7.6 7.6 0 1 0 15.1 0a7.6 7.6 0 1 0 -15.1 0zM1488 726.7a7.6 7.6 0 1 0 15.1 0a7.6 7.6 0 1 0 -15.1 0zM1505.7 728.4a7.6 7.6 0 1 0 15.1 0a7.6 7.6 0 1 0 -15.1 0zM1523.3 729.4a7.6 7.6 0 1 0 15.1 0a7.6 7.6 0 1 0 -15.1 0zM1541 730.3a7.6 7.6 0 1 0 15.1 0a7.6 7.6 0 1 0 -15.1 0zM1558.6 731a7.6 7.6 0 1 0 15.1 0a7.6 7.6 0 1 0 -15.1 0zM1576.3 731.8a7.6 7.6 0 1 0 15.1 0a7.6 7.6 0 1 0 -15.1 0zM1594 732.8a7.6 7.6 0 1 0 15.1 0a7.6 7.6 0 1 0 -15.1 0zM1611.6 733.5a7.6 7.6 0 1 0 15.1 0a7.6 7.6 0 1 0 -15.1 0zM1629.3 734.2a7.6 7.6 0 1 0 15.1 0a7.6 7.6 0 1 0 -15.1 0zM1646.9 735a7.6 7.6 0 1 0 15.1 0a7.6 7.6 0 1 0 -15.1 0zM1664.6 735.8a7.6 7.6 0 1 0 15.1 0a7.6 7.6 0 1 0 -15.1 0zM1682.2 736.5a7.6 7.6 0 1 0 15.1 0a7.6 7.6 0 1 0 -15.1 0zM1699.9 737.2a7.6 7.6 0 1 0 15.1 0a7.6 7.6 0 1 0 -15.1 0zM1717.5 737.9a7.6 7.6 0 1 0 15.1 0a7.6 7.6 0 1 0 -15.1 0zM1735.2 738.6a7.6 7.6 0 1 0 15.1 0a7.6 7.6 0 1 0 -15.1 0zM1752.8 739a7.6 7.6 0 1 0 15.1 0a7.6 7.6 0 1 0 -15.1 0zM1770.5 739.5a7.6 7.6 0 1 0 15.1 0a7.6 7.6 0 1 0 -15.1 0zM1788.1 740a7.6 7.6 0 1 0 15.1 0a7.6 7.6 0 1 0 -15.1 0zM1805.8 740.4a7.6 7.6 0 1 0 15.1 0a7.6 7.6 0 1 0 -15.1 0zM1823.4 740.8a7.6 7.6 0 1 0 15.1 0a7.6 7.6 0 1 0 -15.1 0zM1841.1 741.2a7.6 7.6 0 1 0 15.1 0a7.6 7.6 0 1 0 -15.1 0zM1858.7 741.5a7.6 7.6 0 1 0 15.1 0a7.6 7.6 0 1 0 -15.1 0z"/>
<path fill="#000" d="M993.5 91.1h15.6v15.6h-15.6zM1011.2 133h15.6v15.6h-15.6zM1028.8 174.1h15.6v15.6h-15.6zM1046.5 213h15.6v15.6h-15.6zM1064.1 250.2h15.6v15.6h-15.6zM1081.8 285.1h15.6v15.6h-15.6zM1099.4 319h15.6v15.6h-15.6zM1117.1 352.1h15.6v15.6h-15.6zM1134.7 383.2h15.6v15.6h-15.6zM1152.4 409.2h15.6v15.6h-15.6zM1170.1 434.1h15.6v15.6h-15.6zM1187.7 455.2h15.6v15.6h-15.6zM1205.4 473.1h15.6v15.6h-15.6zM1223 493.5h15.6v15.6h-15.6zM1240.7 514.6h15.6v15.6h-15.6zM1258.3 533.6h15.6v15.6h-15.6zM1276 549h15.6v15.6h-15.6zM1293.6 563.2h15.6v15.6h-15.6zM1311.3 579.1h15.6v15.6h-15.6zM1328.9 592h15.6v15.6h-15.6zM1346.6 603h15.6v15.6h-15.6zM1364.2 616.2h15.6v15.6h-15.6zM1381.9 626.1h15.6v15.6h-15.6zM1399.5 636.7h15.6v15.6h-15.6zM1417.2 645.6h15.6v15.6h-15.6zM1434.8 655.1h15.6v15.6h-15.6zM1452.5 663.2h15.6v15.6h-15.6zM1470.1 670.7h15.6v15.6h-15.6zM1487.8 678.2h15.6v15.6h-15.6zM1505.4 684h15.6v15.6h-15.6zM1523.1 690.2h15.6v15.6h-15.6zM1540.8 696.2h15.6v15.6h-15.6zM1558.4 701.1h15.6v15.6h-15.6zM1576.1 705.5h15.6v15.6h-15.6zM1593.7 709.8h15.6v15.6h-15.6zM1611.4 713.9h15.6v15.6h-15.6zM1629 717.2h15.6v15.6h-15.6zM1646.7 721.2h15.6v15.6h-15.6zM1664.3 724.4h15.6v15.6h-15.6zM1682 727.2h15.6v15.6h-15.6zM1699.6 729.4h15.6v15.6h-15.6zM1717.3 732.2h15.6v15.6h-15.6zM1734.9 734.1h15.6v15.6h-15.6zM1752.6 736.2h15.6v15.6h-15.6zM1770.2 737.4h15.6v15.6h-15.6zM1787.9 739.3h15.6v15.6h-15.6zM1805.5 740.4h15.6v15.6h-15.6zM1823.2 741.2h15.6v15.6h-15.6zM1840.8 741.4h15.6v15.6h-15.6zM1858.5 742.2h15.6v15.6h-15.6z"/>
</g>
<text x="326" y="264.1" font-size="54" letter-spacing="9" text-anchor="end">150000</text>
<text x="326" y="618.7" font-size="54" letter-spacing="9" text-anchor="end">100000</text>
<text x="326" y="973.2" font-size="54" letter-spacing="9" text-anchor="end">50000</text>
<text x="326" y="1327.8" font-size="54" letter-spacing="9" text-anchor="end">0</text>
<text x="350.2" y="1395" font-size="54" letter-spacing="9" text-anchor="middle">0.1</text>
<text x="722.9" y="1395" font-size="54" letter-spacing="9" text-anchor="middle">1</text>
<text x="1095.5" y="1395" font-size="54" letter-spacing="9" text-anchor="middle">10</text>
<text x="1468.1" y="1395" font-size="54" letter-spacing="9" text-anchor="middle">100</text>
<text x="1840.8" y="1395" font-size="54" letter-spacing="9" text-anchor="middle">1000</text>
<text x="549.3" y="74.3" font-size="60.5" letter-spacing="8.1">37 &#176;C</text>
<text y="1513.4" font-size="60.5"><tspan x="818" letter-spacing="8.37" dx="0 1.5 4.5 2 2 0 -4.5 -1.5 1 -1.5 0 -2.5 -1">Shear rate (s</tspan><tspan x="1296.3" y="1479.7" font-size="42" letter-spacing="3">-1</tspan><tspan x="1347.3" y="1513.4">)</tspan></text>
<text transform="translate(63.3 1028.6) rotate(-90)" font-size="62" letter-spacing="8.46"><tspan dx="0 1 -3 2 0 0 1 3.4 -5.1 0">Viscosity </tspan><tspan class="sym" font-size="60" dx="-6.3">&#951;</tspan><tspan dx="0 4.6 -1.1 2.2 3.8 1.5 -7 2"> (mPa.s)</tspan></text>
<text x="978" y="138.2" font-size="30.8" letter-spacing="5.5" text-anchor="end">4000</text>
<text x="978" y="299.9" font-size="30.8" letter-spacing="5.5" text-anchor="end">3000</text>
<text x="978" y="461.5" font-size="30.8" letter-spacing="5.5" text-anchor="end">2000</text>
<text x="978" y="623.1" font-size="30.8" letter-spacing="5.5" text-anchor="end">1000</text>
<text x="978" y="784.8" font-size="30.8" letter-spacing="5.5" text-anchor="end">0</text>
<text x="992.8" y="824" font-size="30.8" letter-spacing="5.8" text-anchor="middle">10</text>
<text x="1429.7" y="824" font-size="30.8" letter-spacing="5.8" text-anchor="middle">100</text>
<text x="1866.6" y="824" font-size="30.8" letter-spacing="5.8" text-anchor="middle">1000</text>
<text y="894.1" font-size="34.6"><tspan x="1265.8" letter-spacing="5.5" dx="0 2.5 1.5 0.5 1.5 0 -3 -2 0 2 0 -3 -1">Shear rate (s</tspan><tspan x="1548" y="873.1" font-size="22.5" letter-spacing="1.5">-1</tspan><tspan x="1577.6" y="894.1">)</tspan></text>
<text transform="translate(868.6 607.5) rotate(-90)" font-size="35.6" letter-spacing="5.21"><tspan dx="0 0 0 0 0 0 0 0 -3.5 0">Viscosity </tspan><tspan class="sym" font-size="34" dx="-0.5">&#951;</tspan><tspan dx="0 2 -2 5 0.5 1.5 -3 0"> (mPa.s)</tspan></text>
<text x="510.8" y="1640.4" font-size="45.3" letter-spacing="6">F<tspan font-size="39.2" letter-spacing="7.3" dx="18.6 -2 0 0 0 0 0 0 0 0 -1 0 -2.5 0 -2 6">(Carbopol 0.1 %)</tspan></text>
<text x="510.8" y="1726" font-size="45.3" letter-spacing="6">H<tspan font-size="39.2" letter-spacing="6.6" dx="18.4 -2 2 0 0 0 0 0 3 0 -2 0 0 0 0 0 0 -5 0 0 0 -2 7">(Sodium alginate 0.1 %)</tspan></text>
<text x="510.8" y="1811.4" font-size="45.3" letter-spacing="6">J<tspan font-size="39.2" letter-spacing="7.3" dx="20 -3 0 0 2 0 0 0 0 -5 0 0 0 4 0 0 -3 0 -3 6">(Xanthan gum 0.05 %)</tspan></text>
<text x="1131.7" y="1640.4" font-size="45.3" letter-spacing="6">D<tspan font-size="39.2" letter-spacing="6.9" dx="21.8 -2.5 5 -3.5 -4 5 0 0 0 -5 3 2 0 0 2.5 0 1.5 0 0 -3 0 -2 0 0 2">(Without mucoadhesive agent)</tspan></text>
<text x="1298.8" y="1726" font-size="45.3" letter-spacing="6">I<tspan font-size="39.2" letter-spacing="6.5" dx="15 -4 4 0 0 0 0 0 3 0 -2 0 0 0 0 0 0 -2 0 -3 0 -1.5 5.5">(Sodium alginate 0.5 %)</tspan></text>
<text x="1294.7" y="1811.4" font-size="45.3" letter-spacing="6">K<tspan font-size="39.2" letter-spacing="7.3" dx="22.7 -3 3 0 0 -3.5 0 1.5 0 -1 0 2 0 1 0 -4 0 -2 6">(Xanthan gum 0.1 %)</tspan></text>
<text class="ser" x="938.3" y="1986.6" font-size="70">(<tspan x="962.4" y="1992.8" font-size="79.5">A</tspan><tspan x="1020.6" y="1986.6">)</tspan></text>
<path fill="none" stroke="#000080" stroke-width="6.3" d="M426.6 1618.3a12.6 12.6 0 1 0 25.2 0a12.6 12.6 0 1 0 -25.2 0z"/>
<path fill="none" stroke="#A0004E" stroke-width="6.2" stroke-linejoin="bevel" d="M439.2 1690.9L451.9 1715.9L426.4 1715.9z"/>
<path fill="none" stroke="#F8147F" stroke-width="6.2" stroke-linejoin="miter" d="M439 1776L451.6 1788.6L439 1801.2L426.4 1788.6z"/>
<path fill="#000" d="M1048.1 1604.9h26.2v26.2h-26.2z"/>
<path fill="#A0004E" d="M1228 1690.3L1241.1 1717.1L1214.9 1717.1z"/>
<path fill="#F8147F" d="M1224.8 1775.1L1238.2 1788.5L1224.8 1801.9L1211.4 1788.5z"/>
</svg></body></html>
